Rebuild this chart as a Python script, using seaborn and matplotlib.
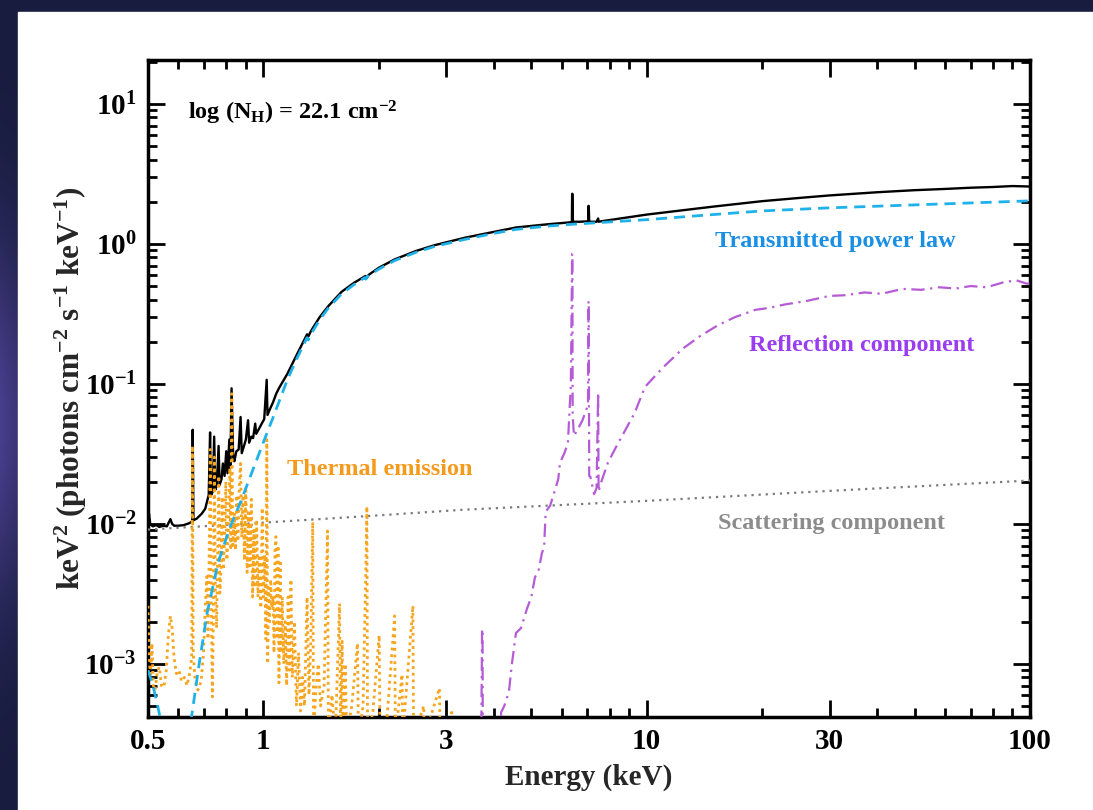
import numpy as np
import pandas as pd
import matplotlib
matplotlib.use("Agg")
import matplotlib.pyplot as plt
import seaborn as sns
from matplotlib.patches import Rectangle
from matplotlib.ticker import FixedLocator, FixedFormatter, LogLocator, NullFormatter

# ---------------- data ----------------
scat_E = [0.5, 1.0, 2.0, 3.3, 10.0, 30.0, 100.0]
scat_val = [0.0091, 0.0102, 0.0115, 0.0126, 0.0146, 0.0172, 0.0204]

trans_E = [0.500, 0.515, 0.530, 0.537, 0.540, 0.600, 0.652, 0.680, 0.713, 0.762,
           0.819, 0.870, 0.924, 0.999, 1.061, 1.155, 1.22, 1.30, 1.31, 1.33, 1.40,
           1.478, 1.60, 1.72, 1.84, 1.85, 1.87, 2.00, 2.20, 2.50, 2.80, 3.37, 4.00,
           4.56, 5.50, 6.37, 7.50, 10.0, 14.0, 20.0, 30.0, 50.0, 100.0]
trans_val = [9.0e-4, 7.0e-4, 5.0e-4, 4.2e-4, 1.5e-5, 1.0e-4, 4.5e-4, 1.0e-3, 2.3e-3, 5.3e-3,
             9.5e-3, 0.0141, 0.0217, 0.038, 0.058, 0.107, 0.150, 0.214, 0.206, 0.226, 0.285,
             0.349, 0.44, 0.51, 0.575, 0.560, 0.588, 0.66, 0.76, 0.870, 0.96, 1.08, 1.19,
             1.27, 1.34, 1.38, 1.42, 1.49, 1.60, 1.72, 1.81, 1.90, 2.03]

refl_E = [3.69, 3.72, 3.73, 3.74, 3.77, 4.10, 4.17, 4.25, 4.37, 4.45, 4.56, 4.70, 4.87,
          5.00, 5.11, 5.22, 5.33, 5.40, 5.45, 5.60, 5.83, 5.88, 5.94, 6.10, 6.23, 6.30,
          6.34, 6.39, 6.40, 6.41, 6.46, 6.60, 6.80, 7.03, 7.05, 7.06, 7.08, 7.13, 7.29,
          7.40, 7.47, 7.49, 7.58, 7.92, 8.3, 8.83, 9.3, 9.9, 11.0, 12.4, 13.8, 15.4,
          17.0, 19.2, 21.0, 23.0, 26.0, 30.0, 33.0, 37.0, 41.0, 46.5, 52.0, 58.0, 64.0,
          70.0, 77.0, 85.0, 92.0, 98.0, 100.0]
refl_val = [1e-4, 1.78e-3, 1.7e-3, 1e-4, 1e-4, 1e-4, 4.5e-4, 5.0e-4, 6.3e-4, 1.0e-3,
            1.66e-3, 1.8e-3, 2.47e-3, 3.0e-3, 4.15e-3, 4.6e-3, 6.2e-3, 6.8e-3, 0.0122,
            0.0135, 0.0193, 0.021, 0.0273, 0.032, 0.0379, 0.070, 0.0952, 0.85, 0.85,
            0.060, 0.0425, 0.047, 0.055, 0.0708, 0.39, 0.39, 0.022, 0.0217, 0.0163,
            0.018, 0.087, 0.017, 0.0193, 0.0273, 0.035, 0.0477, 0.062, 0.0952, 0.13,
            0.178, 0.22, 0.264, 0.30, 0.338, 0.35, 0.37, 0.39, 0.425, 0.43, 0.45, 0.44,
            0.477, 0.47, 0.49, 0.48, 0.50, 0.49, 0.53, 0.55, 0.52, 0.52]

therm_E = [0.500, 0.503, 0.507, 0.512, 0.516, 0.522, 0.528, 0.535, 0.542, 0.550, 0.558,
           0.565, 0.572, 0.578, 0.585, 0.593, 0.602, 0.612, 0.622, 0.632, 0.642, 0.650,
           0.653, 0.656, 0.664, 0.675, 0.688, 0.698, 0.705, 0.712, 0.717, 0.722, 0.727,
           0.731, 0.736, 0.741, 0.745, 0.749, 0.755, 0.760, 0.765, 0.770, 0.776, 0.781,
           0.786, 0.792, 0.798, 0.803, 0.810, 0.818, 0.822, 0.827, 0.832, 0.840, 0.846,
           0.852, 0.858, 0.866, 0.872, 0.878, 0.885, 0.892, 0.900, 0.907, 0.915, 0.922,
           0.930, 0.937, 0.945, 0.952, 0.960, 0.968, 0.975, 0.985, 0.993, 1.000, 1.008,
           1.015, 1.021, 1.026, 1.032, 1.038, 1.045, 1.052, 1.060, 1.066, 1.072, 1.078,
           1.085, 1.092, 1.098, 1.106, 1.112, 1.120, 1.130, 1.140, 1.150, 1.160, 1.170,
           1.180, 1.190, 1.205, 1.220, 1.235, 1.250, 1.265, 1.280, 1.300, 1.315, 1.330,
           1.345, 1.352, 1.370, 1.390, 1.410, 1.440, 1.470, 1.478, 1.510, 1.540, 1.580,
           1.590, 1.605, 1.615, 1.635, 1.650, 1.700, 1.760, 1.770, 1.820, 1.855, 1.862,
           1.870, 1.930, 2.005, 2.015, 2.100, 2.200, 2.210, 2.300, 2.310, 2.455, 2.465,
           2.620, 2.630, 2.880, 2.890, 3.100, 3.110, 3.300]
therm_val = [2.6e-3, 1.2e-3, 8.0e-4, 1.4e-3, 7.0e-4, 6.5e-4, 8.5e-4, 9.5e-4, 7.0e-4, 6.8e-4, 9.0e-4,
             1.6e-3, 2.2e-3, 1.8e-3, 1.1e-3, 8.5e-4, 9.0e-4, 7.5e-4, 8.0e-4, 7.0e-4, 8.5e-4, 1.1e-3,
             0.036, 1.2e-3, 7.5e-4, 6.5e-4, 7.5e-4, 1.2e-3, 2.5e-3, 4.2e-3, 1.5e-3, 6.0e-3, 0.034,
             3.0e-3, 5.8e-4, 2.5e-3, 0.030, 3.5e-3, 1.8e-3, 6.0e-3, 0.022, 3.2e-3, 5.0e-3, 0.0156,
             4.7e-3, 8.0e-3, 0.020, 5.5e-3, 9.0e-3, 0.025, 6.5e-3, 0.085, 7.0e-3, 0.012, 6.5e-3,
             0.016, 7.5e-3, 0.020, 0.027, 8.0e-3, 0.016, 5.5e-3, 0.0184, 4.5e-3, 0.012, 5.0e-3,
             0.015, 3.0e-3, 9.0e-3, 3.5e-3, 0.0107, 3.0e-3, 6.0e-3, 2.5e-3, 0.013, 3.0e-3, 6.0e-3,
             1.5e-3, 0.040, 1.0e-3, 3.5e-3, 2.0e-3, 4.0e-3, 2.5e-3, 3.0e-3, 1.2e-3, 6.4e-3, 8.1e-3,
             1.5e-3, 7.0e-3, 7.3e-4, 5.5e-3, 1.2e-3, 3.0e-3, 1.0e-3, 2.0e-3, 7.0e-4, 3.0e-3, 9.0e-4,
             4.0e-3, 8.0e-4, 2.0e-3, 5.0e-4, 1.2e-3, 4.6e-4, 8.0e-4, 5.0e-4, 3.0e-3, 6.0e-4, 1.5e-3,
             0.0103, 3.0e-4, 6.3e-4, 1.0e-3, 5.0e-4, 7.0e-4, 8.9e-3, 3.0e-4, 6.0e-4, 3.0e-4, 2.7e-3,
             3.0e-4, 1.45e-3, 3.0e-4, 1.0e-3, 3.0e-4, 5.0e-4, 1.4e-3, 3.0e-4, 5.0e-4, 6.5e-3, 0.0133,
             3.0e-4, 4.5e-4, 1.6e-3, 3.0e-4, 4.0e-4, 2.2e-3, 3.0e-4, 8.4e-4, 3.0e-4, 2.6e-3, 3.0e-4,
             5.0e-4, 3.0e-4, 6.7e-4, 3.0e-4, 4.5e-4, 3.0e-4, 2.0e-4]

total_E = [0.500, 0.503, 0.507, 0.515, 0.525, 0.535, 0.548, 0.560, 0.572, 0.578, 0.585,
           0.600, 0.620, 0.640, 0.652, 0.654, 0.657, 0.670, 0.690, 0.705, 0.713, 0.720,
           0.726, 0.730, 0.738, 0.744, 0.749, 0.756, 0.764, 0.769, 0.778, 0.784, 0.792,
           0.800, 0.806, 0.815, 0.820, 0.826, 0.834, 0.840, 0.850, 0.862, 0.872, 0.878,
           0.890, 0.900, 0.912, 0.918, 0.930, 0.940, 0.952, 0.958, 0.975, 0.990, 1.005,
           1.020, 1.025, 1.040, 1.060, 1.080, 1.100, 1.155, 1.22, 1.30, 1.31, 1.33, 1.40,
           1.478, 1.60, 1.72, 1.845, 1.86, 1.88, 2.00, 2.20, 2.5, 2.8, 3.37, 4.0, 4.56,
           5.5, 6.2, 6.38, 6.39, 6.40, 6.42, 6.7, 7.04, 7.05, 7.06, 7.08, 7.4, 7.47, 7.49,
           7.6, 8.0, 10.0, 12.0, 15.0, 20.0, 25.0, 30.0, 40.0, 50.0, 60.0, 70.0, 80.0,
           90.0, 100.0]
total_val = [0.0100, 0.0118, 0.0099, 0.0096, 0.0098, 0.0095, 0.0097, 0.0096, 0.0108, 0.0100, 0.0097,
             0.0097, 0.0098, 0.0101, 0.0104, 0.047, 0.0106, 0.0109, 0.0118, 0.0128, 0.0145, 0.016,
             0.045, 0.016, 0.017, 0.042, 0.0175, 0.019, 0.036, 0.019, 0.021, 0.027, 0.022,
             0.033, 0.023, 0.040, 0.025, 0.093, 0.030, 0.028, 0.033, 0.034, 0.058, 0.032,
             0.036, 0.040, 0.055, 0.038, 0.042, 0.041, 0.052, 0.044, 0.048, 0.052, 0.056,
             0.107, 0.060, 0.066, 0.074, 0.085, 0.094, 0.118, 0.160, 0.226, 0.218, 0.238, 0.298,
             0.36, 0.455, 0.525, 0.59, 0.57, 0.60, 0.675, 0.775, 0.89, 0.98, 1.11, 1.22, 1.31,
             1.38, 1.42, 1.43, 2.28, 2.28, 1.44, 1.44, 1.45, 1.87, 1.87, 1.44, 1.44, 1.52, 1.44,
             1.45, 1.48, 1.62, 1.72, 1.85, 2.02, 2.13, 2.22, 2.34, 2.42, 2.47, 2.52, 2.55,
             2.59, 2.57]

x_ticks = [0.5, 1, 3, 10, 30, 100]
x_ticklabels = ["0.5", "1", "3", "10", "30", "100"]
y_ticks = [1e-3, 1e-2, 1e-1, 1e0, 1e1]
y_ticklabels = [r"$10^{-3}$", r"$10^{-2}$", r"$10^{-1}$", r"$10^{0}$", r"$10^{1}$"]

# ---------------- style ----------------
sns.set_style("ticks")
plt.rcParams["font.family"] = ["Liberation Serif", "DejaVu Serif"]
plt.rcParams["font.weight"] = "bold"
plt.rcParams["mathtext.fontset"] = "custom"
plt.rcParams["mathtext.rm"] = "Liberation Serif:bold"
plt.rcParams["mathtext.it"] = "Liberation Serif:bold:italic"
plt.rcParams["mathtext.bf"] = "Liberation Serif:bold"
plt.rcParams["mathtext.default"] = "rm"

W, H = 1093, 810
fig = plt.figure(figsize=(W / 100, H / 100), dpi=100)
fig.patch.set_facecolor("#1b1f42")

# background: night-sky gradient with white panel
bg = fig.add_axes([0, 0, 1, 1], zorder=-10)
yy = np.linspace(0, 1, 200)[:, None]
xx = np.linspace(0, 1, 400)[None, :]
glow = np.exp(-((yy - 0.52) / 0.22) ** 2) * np.exp(-xx / 0.05)
top = np.array([24, 28, 62]) / 255
mid = np.array([72, 62, 140]) / 255
img = top[None, None, :] + (mid - top)[None, None, :] * glow[:, :, None]
bg.imshow(img, extent=[0, 1, 0, 1], aspect="auto", origin="upper")
bg.set_xlim(0, 1)
bg.set_ylim(0, 1)
bg.axis("off")
bg.add_patch(Rectangle((18 / W, 0), 1, 1 - 12 / H, color="white", zorder=5))

ax = fig.add_axes([148 / W, 1 - 717 / H, 882 / W, 657 / H])
ax.set_facecolor("white")
ax.set_xscale("log")
ax.set_yscale("log")

df_tot = pd.DataFrame({"E": total_E, "v": total_val})
df_scat = pd.DataFrame({"E": scat_E, "v": scat_val})
df_refl = pd.DataFrame({"E": refl_E, "v": refl_val})
df_therm = pd.DataFrame({"E": therm_E, "v": therm_val})
df_trans = pd.DataFrame({"E": trans_E, "v": trans_val})

kw = dict(x="E", y="v", ax=ax, estimator=None, sort=False, legend=False)
sns.lineplot(data=df_tot, color="black", lw=1.7, zorder=2, **kw)
sns.lineplot(data=df_scat, color="#7a7a7a", lw=1.6, linestyle=(0, (1, 2.2)), zorder=3, **kw)
sns.lineplot(data=df_refl, color="#b55bd6", lw=1.6, linestyle=(0, (6, 2.5, 1, 2.5)), zorder=3, **kw)
sns.lineplot(data=df_therm, color="#f7a51e", lw=2.0, linestyle=(0, (1, 1.4)), zorder=4, **kw)
sns.lineplot(data=df_trans, color="#1fb2ea", lw=2.0, linestyle=(0, (4, 2.5)), zorder=5, **kw)

ax.set_xlim(0.5, 100)
ax.set_ylim(4.17e-4, 20.6)

ax.xaxis.set_major_locator(FixedLocator(x_ticks))
ax.xaxis.set_major_formatter(FixedFormatter(x_ticklabels))
ax.xaxis.set_minor_locator(FixedLocator([0.6, 0.7, 0.8, 0.9, 2, 4, 5, 6, 7, 8, 9,
                                         20, 40, 50, 60, 70, 80, 90]))
ax.xaxis.set_minor_formatter(NullFormatter())
ax.yaxis.set_major_locator(FixedLocator(y_ticks))
ax.yaxis.set_major_formatter(FixedFormatter(y_ticklabels))
ax.yaxis.set_minor_locator(LogLocator(base=10, subs=np.arange(2, 10), numticks=20))
ax.yaxis.set_minor_formatter(NullFormatter())

ax.tick_params(which="both", direction="in", top=True, right=True, colors="black",
               labelsize=21, width=2.0)
ax.tick_params(which="major", length=12, pad=8)
ax.tick_params(which="minor", length=6.5)
for s in ax.spines.values():
    s.set_linewidth(2.5)
    s.set_color("black")
for lab in ax.get_xticklabels() + ax.get_yticklabels():
    lab.set_fontweight("bold")

ax.set_xlabel("Energy (keV)", fontsize=21, fontweight="bold", labelpad=6)
ax.set_ylabel(r"keV$^2$ (photons cm$^{-2}$ s$^{-1}$ keV$^{-1}$)", fontsize=22.5,
              fontweight="bold", labelpad=-3)

tkw = dict(transform=ax.transAxes, fontsize=17.5, fontweight="bold", ha="center", va="center")
ax.text(0.779, 0.723, "Transmitted power law", color="#1a8fe3", **tkw)
ax.text(0.8095, 0.5647, "Reflection component", color="#9a3cf0", **tkw)
ax.text(0.263, 0.376, "Thermal emission", color="#f59a1a", **tkw)
ax.text(0.7755, 0.2938, "Scattering component", color="#8c8c8c", **tkw)
ax.text(0.0454, 0.919, r"log (N$_{\mathrm{H}}$) = 22.1 cm$^{\mathrm{-2}}$", color="black",
        transform=ax.transAxes, fontsize=17.5, fontweight="bold", ha="left", va="center")

fig.savefig("out.png", dpi=100, facecolor=fig.get_facecolor())
